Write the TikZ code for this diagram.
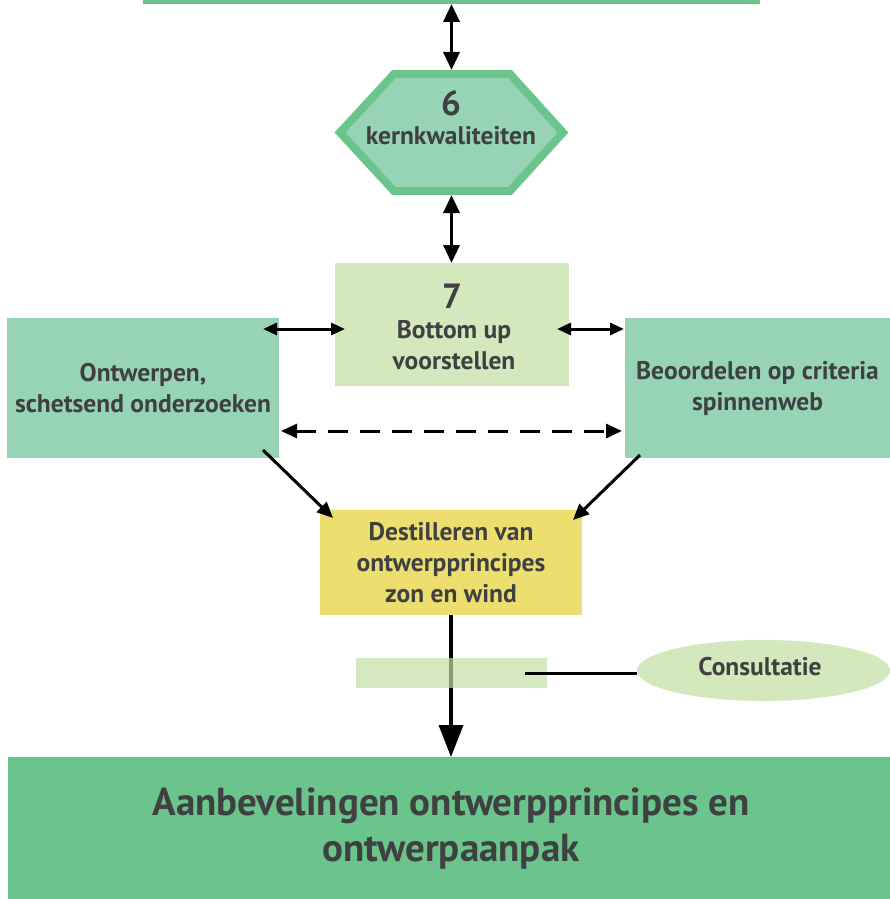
\documentclass[tikz,border=0pt]{standalone}
\usepackage{fontspec}
\setmainfont{PT Sans}
\usetikzlibrary{arrows.meta,calc,shapes.geometric}
\definecolor{dgreen}{HTML}{6AC48B}
\definecolor{mgreen}{HTML}{96D4B5}
\definecolor{lgreen}{HTML}{D3E8BC}
\definecolor{barg}{HTML}{C3DEA5}
\definecolor{yel}{HTML}{ECDF70}
\definecolor{txt}{HTML}{3F4041}
\begin{document}
\begin{tikzpicture}[x=1pt,y=-1pt,
  every node/.style={inner sep=0pt, outer sep=0pt, text=txt, align=center,
    font=\bfseries\fontsize{25.5}{31}\selectfont},
  bignum/.style={font=\bfseries\fontsize{35}{36}\selectfont},
  bigtxt/.style={font=\bfseries\fontsize{39}{46}\selectfont},
  arrA/.style={line width=3.5pt, {Triangle[length=18pt,width=16pt]}-{Triangle[length=18pt,width=16pt]}},
  arrH/.style={line width=3pt, {Triangle[length=14pt,width=12pt]}-{Triangle[length=14pt,width=12pt]}},
  arrD/.style={line width=3pt, dash pattern=on 20pt off 12pt, {Triangle[length=16pt,width=14pt]}-{Triangle[length=16pt,width=14pt]}},
  arrS/.style={line width=3pt, -{Triangle[length=16pt,width=14pt]}},
  arrB/.style={line width=3.5pt, -{Triangle[length=32pt,width=24pt]}},
  plain/.style={line width=3pt}
]
\useasboundingbox (0,0) rectangle (890,899);
\begin{scope}
\clip (0,0) rectangle (890,899);
% top partial box
\node[fill=dgreen, minimum width=617pt, minimum height=30pt] (top) at (451.5,-11) {};
% hexagon
\node[minimum width=233pt, minimum height=125pt] (hex) at (451.5,132.5) {};
\draw[draw=dgreen, fill=mgreen, line width=8pt, line join=miter]
  (340,132.5) -- (394,74) -- (510,74) -- (563,132.5) -- (510,191) -- (394,191) -- cycle;
\node[bignum] (hexnum) at (451,103) {6};
\node (hextxt) at (451,136) {kernkwaliteiten};
% box 7
\node[fill=lgreen, minimum width=234pt, minimum height=123pt] (b7) at (452,324.5) {};
\node[bignum] (b7num) at (452,296) {7};
\node (b7txt) at (454,345) {Bottom up\\voorstellen};
% side boxes
\node[fill=mgreen, minimum width=272pt, minimum height=140pt] (L) at (143,388)
  {Ontwerpen,\\schetsend onderzoeken};
\node[fill=mgreen, minimum width=265pt, minimum height=140pt] (R) at (757.5,388)
  {Beoordelen op criteria\\spinnenweb};
% yellow
\node[fill=yel, minimum width=262pt, minimum height=105pt] (Y) at (451,562.5)
  {Destilleren van\\ontwerpprincipes\\zon en wind};
% ellipse
\node[fill=lgreen, ellipse, minimum width=253pt, minimum height=61pt] (ell) at (763.5,670.5) {};
\node (elltxt) at (760,667) {Consultatie};
% bottom
\node[fill=dgreen, minimum width=882pt, minimum height=150pt] (bot) at (449,832) {};
\node[bigtxt] (bottxt) at (451,829) {Aanbevelingen ontwerpprincipes en\\ontwerpaanpak};
% arrows
\draw[arrA] (top.south) -- (hex.north);
\draw[arrA] (hex.south) -- (hex.south |- b7.north);
\draw[arrH] ([xshift=-16pt]L.east |- 0,329) -- ([xshift=10pt]b7.west |- 0,329);
\draw[arrH] ([xshift=-12pt]b7.east |- 0,329) -- ([xshift=-1pt]R.west |- 0,329);
\draw[arrD] ([xshift=2pt]L.east |- 0,431) -- ([xshift=-3pt]R.west |- 0,431);
\draw[arrS] ([xshift=-16pt,yshift=8pt]L.south east) -- ([xshift=13pt,yshift=-8pt]Y.north west);
\draw[arrS] ([xshift=15pt,yshift=3pt]R.south west) -- ([xshift=-9pt,yshift=-10pt]Y.north east);
\draw[arrB] (Y.south) -- (Y.south |- bot.north);
% bar over arrow
\node[fill=barg, fill opacity=0.7, minimum width=191pt, minimum height=30pt] (bar) at (451.5,673) {};
\draw[plain] ([xshift=-22pt]bar.east) -- (ell.west |- bar.east);
\end{scope}
\end{tikzpicture}
\end{document}
